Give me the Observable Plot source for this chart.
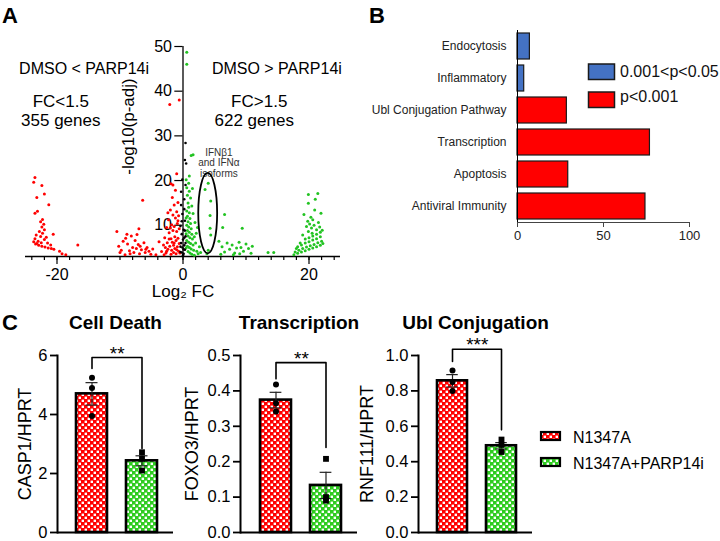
<!DOCTYPE html>
<html>
<head>
<meta charset="utf-8">
<script src="https://cdn.jsdelivr.net/npm/d3@7"></script>
<script src="https://cdn.jsdelivr.net/npm/@observablehq/plot@0.6"></script>
<style>
  html, body { margin: 0; padding: 0; background: #fff; }
  #fig { position: relative; width: 720px; height: 541px; overflow: hidden; background: #fff; }
  #fig > svg { position: absolute; }
</style>
</head>
<body>
<svg width="0" height="0" style="position:absolute">
  <defs>
    <pattern id="chkRed" width="6" height="6" patternUnits="userSpaceOnUse">
      <rect width="6" height="6" fill="#ff0000"/>
      <rect x="0.6" y="0.6" width="2.4" height="2.4" fill="#ffffff"/>
      <rect x="3.6" y="3.6" width="2.4" height="2.4" fill="#ffffff"/>
    </pattern>
    <pattern id="chkGreen" width="6" height="6" patternUnits="userSpaceOnUse">
      <rect width="6" height="6" fill="#2ecc1f"/>
      <rect x="0.6" y="0.6" width="2.4" height="2.4" fill="#ffffff"/>
      <rect x="3.6" y="3.6" width="2.4" height="2.4" fill="#ffffff"/>
    </pattern>
  </defs>
</svg>
<div id="fig"></div>
<script>
const FONT = '"Liberation Sans", Arial, Helvetica, sans-serif';

// ---------------- Panel A: volcano (log2 FC, -log10 p-adj) ----------------
const redPts = [
  [-23.5,20.7],[-23.7,19.6],[-22.4,18.9],[-22.0,17.0],[-23.2,16.2],[-21.3,14.6],[-23.1,13.1],[-23.5,12.7],
  [-22.3,11.3],[-22.6,10.8],[-22.1,10.2],[-22.4,9.6],[-22.0,9.0],[-22.8,8.6],[-22.3,8.2],[-23.3,7.8],
  [-22.6,7.5],[-21.7,7.3],[-23.5,7.0],[-22.0,6.8],[-23.0,6.4],[-22.5,6.1],[-21.5,6.0],[-23.4,5.8],
  [-22.9,5.5],[-22.4,5.3],[-21.9,5.1],[-21.4,4.9],[-20.9,4.8],[-20.5,4.6],[-23.7,6.3],[-23.2,5.9],
  [-21.0,5.6],[-20.6,8.0],[-19.6,4.2],[-19.2,3.6],[-18.6,3.4],[-16.7,5.6],
  [-10.5,8.6],[-10.2,5.3],[-9.8,4.4],[-9.5,6.4],[-9.1,7.1],[-8.8,5.8],[-8.5,4.3],[-8.2,7.6],
  [-8.0,5.0],[-7.8,3.9],[-7.6,6.6],[-7.4,4.8],[-7.1,5.7],[-6.9,3.6],[-6.6,4.5],[-6.4,15.6],
  [-6.2,6.1],[-6.0,3.9],[-5.7,5.0],[-5.4,4.2],[-5.1,3.5],[-4.8,4.7],[-9.2,3.4],[-8.9,8.0],
  [-7.3,7.9],[-10.0,3.9],[-7.0,9.2],[-5.9,4.6],[-8.4,3.6],[-6.8,5.3],[-4.3,3.4],[-3.8,6.3],
  [-0.6,38.0],[-2.1,37.0],[-1.0,21.5],[-1.9,19.3],
  [-3.4,4.1],[-3.1,5.6],[-2.9,7.2],[-2.7,3.8],[-2.6,9.5],[-2.5,6.1],[-2.4,4.6],[-2.3,11.2],
  [-2.2,8.3],[-2.1,5.3],[-2.0,13.4],[-1.9,3.5],[-1.9,7.0],[-1.8,10.1],[-1.8,4.4],[-1.7,16.2],
  [-1.7,6.2],[-1.6,12.3],[-1.6,8.8],[-1.5,3.9],[-1.5,5.5],[-1.4,14.5],[-1.4,9.7],[-1.3,7.4],
  [-1.3,4.8],[-1.2,17.8],[-1.2,11.6],[-1.1,6.6],[-1.1,3.6],[-1.0,13.0],[-1.0,8.6],[-0.9,5.2],
  [-0.9,10.4],[-0.8,15.1],[-0.8,7.1],[-0.7,4.2],[-0.7,12.1],[-0.6,9.2],[-0.6,5.9],[-0.5,3.8],
  [-2.8,5.0],[-3.0,3.4],[-2.4,12.8],[-1.6,19.0],[-2.2,6.9],[-1.0,4.5],[-1.4,6.0],[-0.8,11.0],
  [-2.6,4.2],[-2.0,9.4]
];
const greyPts = [
  [0.4,28.4],[0.5,23.8],[0.3,24.6],[-0.3,17.5],[0.2,15.8],[-0.1,12.5],[0.3,11.0],[-0.4,9.8],
  [0.1,9.0],[-0.2,8.0],[0.4,7.5],[0.0,6.8],[-0.3,6.0],[0.2,5.5],[-0.1,5.0],[0.3,4.5],
  [-0.4,4.0],[0.1,3.6],[0.0,3.3],[-0.2,10.9],[0.2,13.6],[-0.3,14.5],[0.4,19.0],[-0.1,20.2],
  [0.2,7.2],[-0.4,5.2],[0.3,8.8],[-0.2,3.9],[0.1,4.6],[0.4,6.0]
];
const greenPts = [
  [0.6,48.7],[0.6,46.0],[1.3,25.6],[1.6,25.8],[1.0,21.0],
  [0.5,20.2],[0.6,18.4],[0.7,16.7],[0.8,15.0],[0.9,14.0],[0.6,13.2],[1.0,12.8],[0.7,12.0],
  [1.1,11.5],[0.8,10.8],[1.2,10.4],[0.6,10.0],[0.9,9.6],[1.3,9.2],[0.7,8.8],[1.0,8.4],
  [1.4,8.0],[0.8,7.6],[1.1,7.2],[1.5,6.9],[0.6,6.6],[0.9,6.2],[1.2,5.9],[1.6,5.6],
  [0.7,5.3],[1.0,5.0],[1.3,4.7],[1.7,4.4],[0.8,4.1],[1.1,3.8],[1.4,3.5],[1.8,3.3],
  [2.0,6.0],[2.2,4.2],[2.4,3.6],[2.1,8.2],[1.9,10.6],[1.6,12.6],[1.4,14.3],[1.2,16.1],
  [1.0,17.6],[0.9,19.4],[2.6,5.2],[2.8,3.9],[1.5,18.2],[2.3,9.5],[1.8,7.4],[0.5,11.6],
  [0.5,8.1],[0.5,4.9],
  [4.0,19.4],[3.5,18.0],[4.4,15.4],[4.3,12.2],[4.3,9.3],[4.4,7.8],[4.0,4.4],[3.8,3.6],
  [6.6,12.4],[6.3,9.5],[9.4,9.3],[5.7,6.4],[6.2,5.2],[6.6,4.0],[7.0,6.0],[7.4,4.6],
  [7.8,5.6],[8.2,3.8],[8.5,4.9],[8.9,6.2],[9.2,5.0],[9.6,4.2],[10.0,5.8],[10.4,4.8],
  [10.8,3.7],[11.0,5.3],[8.0,3.4],[6.0,3.5],[9.0,3.6],[13.5,3.9],[14.4,3.9],
  [21.4,17.1],[19.9,16.9],[21.0,15.8],[19.9,14.9],[20.3,11.8],[20.6,11.2],[19.8,10.9],[20.1,10.3],
  [20.8,10.0],[19.6,9.7],[20.4,9.4],[21.2,9.0],[19.9,8.6],[20.5,8.2],[21.9,12.7],[21.5,10.6],
  [19.0,7.8],[18.6,6.0],[19.4,6.9],[20.0,7.2],[20.6,7.6],[21.2,8.0],[21.8,8.4],[18.2,5.2],
  [18.8,5.6],[19.4,6.0],[20.0,6.3],[20.6,6.7],[21.2,7.0],[21.8,7.4],[17.8,4.0],[18.4,4.4],
  [19.0,4.8],[19.6,5.1],[20.2,5.4],[20.8,5.7],[21.4,6.1],[22.0,6.4],[17.6,3.4],[18.2,3.7],
  [18.8,4.0],[19.4,4.3],[20.0,4.6],[20.6,4.9],[21.2,5.2],[21.8,5.5],[22.2,5.9],[18.0,4.8],
  [21.7,9.6],[22.1,8.9],[19.2,12.4],[20.9,13.4]
];
const xMajorA = [-20, 0, 20];
const xMinorA = [-24,-22,-20,-18,-16,-14,-12,-10,-8,-6,-4,-2,0,2,4,6,8,10,12,14,16,18,20,22,24];
const yTicksA = [10, 20, 30, 40, 50];
const textsA = ["DMSO < PARP14i", "FC<1.5", "355 genes", "DMSO > PARP14i", "FC>1.5", "622 genes"];
const ifnNote = "IFNβ1\nand IFNα\nisoforms";
const ifnEllipse = {x: 4.0, y: 12.6, rx: 1.5, ry: 9.0};

// ---------------- Panel B: pathway bars ----------------
const pathways = ["Endocytosis", "Inflammatory", "Ubl Conjugation Pathway", "Transcription", "Apoptosis", "Antiviral Immunity"];
const pathwayValues = [7.2, 3.9, 28.7, 77.0, 29.5, 74.4];
const pathwaySig = ["0.001<p<0.05", "0.001<p<0.05", "p<0.001", "p<0.001", "p<0.001", "p<0.001"];
const sigLevels = ["0.001<p<0.05", "p<0.001"];
const sigColors = ["#4472c4", "#ff0000"];
const xTicksB = [0, 50, 100];

// ---------------- Panel C: qPCR bars ----------------
const groups = ["N1347A", "N1347A+PARP14i"];
const cTitles = ["Cell Death", "Transcription", "Ubl Conjugation"];
const cYLabels = ["CASP1/HPRT", "FOXO3/HPRT", "RNF111/HPRT"];
const casp1Mean = [4.70, 2.43];
const casp1Sem = [0.38, 0.17];
const casp1Reps = [[5.25, 4.90, 3.95], [2.72, 2.50, 2.10]];
const foxo3Mean = [0.374, 0.133];
const foxo3Sem = [0.022, 0.037];
const foxo3Reps = [[0.418, 0.365, 0.342], [0.208, 0.100, 0.090]];
const rnf111Mean = [0.857, 0.490];
const rnf111Sem = [0.035, 0.018];
const rnf111Reps = [[0.915, 0.850, 0.800], [0.525, 0.495, 0.455]];
const casp1Ticks = [0, 2, 4, 6];
const foxo3Ticks = [0, 0.1, 0.2, 0.3, 0.4, 0.5];
const rnf111Ticks = [0, 0.2, 0.4, 0.6, 0.8, 1.0];
const sigStars = ["**", "**", "***"];
// bracket: [left leg bottom, top, right leg bottom]
const casp1Bracket = [5.56, 5.93, 2.85];
const foxo3Bracket = [0.434, 0.48, 0.24];
const rnf111Bracket = [0.966, 1.035, 0.58];

const fig = document.getElementById("fig");
function place(svg, left, top) {
  svg.style.left = left + "px";
  svg.style.top = top + "px";
  fig.appendChild(svg);
  return svg;
}
const baseStyle = {fontFamily: FONT, background: "transparent", overflow: "visible", color: "#000"};

// ---- Panel A ----
const annA = [
  {x: -15.7, y: 45.1, t: textsA[0], s: 16},
  {x: -19.4, y: 37.6, t: textsA[1], s: 17},
  {x: -19.4, y: 33.5, t: textsA[2], s: 17},
  {x: 14.9, y: 45.1, t: textsA[3], s: 16},
  {x: 12.1, y: 37.6, t: textsA[4], s: 17},
  {x: 11.3, y: 33.5, t: textsA[5], s: 17}
];
const pA = Plot.plot({
  width: 360, height: 300,
  marginLeft: 25, marginRight: 20, marginTop: 46, marginBottom: 44,
  x: {domain: [-25, 25]},
  y: {domain: [3, 50], axis: null},
  style: {...baseStyle, fontSize: "15px"},
  marks: [
    Plot.ruleY([3], {stroke: "#000", strokeWidth: 1.3}),
    Plot.axisX({ticks: xMinorA, tickSize: 4, tickFormat: () => "", label: null, strokeWidth: 1.2}),
    Plot.axisX({ticks: xMajorA, tickSize: 8, tickPadding: 4, fontSize: 16, label: null, strokeWidth: 1.2,
      tickFormat: d => (d < 0 ? "-" + Math.abs(d) : String(d))}),
    Plot.ruleX([0], {y1: 3, y2: 50, stroke: "#000", strokeWidth: 1.3}),
    Plot.ruleY(yTicksA, {y: d => d, x1: -1.3, x2: 0, stroke: "#000", strokeWidth: 1.2}),
    Plot.text(yTicksA, {x: 0, y: d => d, text: d => String(d), textAnchor: "end", dx: -11, fontSize: 16}),
    Plot.dot(redPts, {x: d => d[0], y: d => d[1], r: 1.5, fill: "#ff0000"}),
    Plot.dot(greenPts, {x: d => d[0], y: d => d[1], r: 1.5, fill: "#22c322"}),
    Plot.dot(greyPts, {x: d => d[0], y: d => d[1], r: 1.3, fill: "#000"}),
    Plot.text(annA, {x: "x", y: "y", text: "t", fontSize: d => d.s}),
    Plot.text([ifnNote], {x: 5.7, y: 24.0, text: d => d, fontSize: 10, lineHeight: 1.05, fill: "#333"}),
    Plot.text(["-log10(p-adj)"], {x: -8.6, y: 32.1, text: d => d, rotate: -90, fontSize: 17}),
    Plot.text(["Log₂ FC"], {x: 0, y: -4.8, text: d => d, fontSize: 17})
  ]
});
{
  const sx = pA.scale("x"), sy = pA.scale("y");
  d3.select(pA).append("ellipse")
    .attr("cx", sx.apply(ifnEllipse.x))
    .attr("cy", sy.apply(ifnEllipse.y))
    .attr("rx", sx.apply(ifnEllipse.x + ifnEllipse.rx) - sx.apply(ifnEllipse.x))
    .attr("ry", sy.apply(ifnEllipse.y - ifnEllipse.ry) - sy.apply(ifnEllipse.y))
    .attr("fill", "none").attr("stroke", "#000").attr("stroke-width", 1.8);
}
place(pA, 0, 0);

// ---- Panel B ----
const dataB = pathways.map((p, i) => ({p, v: pathwayValues[i], s: pathwaySig[i]}));
const pB = Plot.plot({
  width: 360, height: 260,
  marginLeft: 157, marginRight: 31, marginTop: 30, marginBottom: 38,
  x: {domain: [0, 100]},
  y: {domain: pathways, paddingInner: 0.2, paddingOuter: 0.1},
  color: {domain: sigLevels, range: sigColors},
  style: {...baseStyle, fontSize: "13px"},
  marks: [
    Plot.barX(dataB, {x: "v", y: "p", fill: "s", stroke: "#1a1a1a", strokeWidth: 1.2}),
    Plot.frame({anchor: "left", stroke: "#000", strokeWidth: 1}),
    Plot.frame({anchor: "bottom", stroke: "#444", strokeWidth: 1}),
    Plot.axisX({ticks: xTicksB, tickSize: 5, tickPadding: 3, fontSize: 13, label: null, stroke: "#444", fill: "#222"}),
    Plot.axisY({tickSize: 0, tickPadding: 11, fontSize: 12, label: null, fill: "#222"})
  ]
});
place(pB, 360, 0);

// ---- Panel C ----
function panelC({mean, sem, reps, ticks, fmt, title, ylabel, bracket, stars, labDx, left, rangeW}) {
  const rows = groups.map((g, i) => ({g, m: mean[i], s: sem[i]}));
  const dots0 = reps[0].map(v => ({g: groups[0], v}));
  const dots1 = reps[1].map(v => ({g: groups[1], v}));
  const br = [
    {g: groups[0], v: bracket[0]}, {g: groups[0], v: bracket[1]},
    {g: groups[1], v: bracket[1]}, {g: groups[1], v: bracket[2]}
  ];
  const PI = 0.386, PO = 0.342;
  const step = rangeW / (2 - PI + 2 * PO);
  const bw = step * (1 - PI);
  const capInset = (bw - 12) / 2;
  const p = Plot.plot({
    width: 57 + rangeW + 12, height: 241,
    marginLeft: 57, marginRight: 12, marginTop: 55, marginBottom: 9,
    x: {domain: groups, paddingInner: PI, paddingOuter: PO, align: 0.55, axis: null},
    y: {domain: [ticks[0], ticks[ticks.length - 1]]},
    color: {domain: groups, range: ["url(#chkRed)", "url(#chkGreen)"]},
    style: {...baseStyle, fontSize: "16px"},
    marks: [
      Plot.barY(rows, {x: "g", y: "m", fill: "g", stroke: "#000", strokeWidth: 2.6}),
      Plot.ruleX(rows, {x: "g", y1: d => d.m - d.s, y2: d => d.m + d.s, stroke: "#222", strokeWidth: 1.2}),
      Plot.tickY(rows, {x: "g", y: d => d.m + d.s, insetLeft: capInset, insetRight: capInset, stroke: "#222", strokeWidth: 1.2}),
      Plot.tickY(rows, {x: "g", y: d => d.m - d.s, insetLeft: capInset, insetRight: capInset, stroke: "#222", strokeWidth: 1.2}),
      Plot.dot(dots0, {x: "g", y: "v", r: 3, fill: "#000", symbol: "circle"}),
      Plot.dot(dots1, {x: "g", y: "v", r: 3.3, fill: "#000", symbol: "square"}),
      Plot.ruleY([0], {stroke: "#000", strokeWidth: 2}),
      Plot.frame({anchor: "left", stroke: "#000", strokeWidth: 2}),
      Plot.axisY({ticks, tickFormat: fmt, tickSize: 7, tickPadding: 3, fontSize: 16.5, label: null, strokeWidth: 1.8}),
      Plot.line(br, {x: "g", y: "v", stroke: "#000", strokeWidth: 1.6}),
      Plot.text([stars], {x: () => groups[0], y: () => bracket[1], text: d => d, dx: step / 2, lineAnchor: "bottom", dy: 2, fontSize: 19}),
      Plot.text([title], {frameAnchor: "top", text: d => d, dy: -40, fontWeight: "bold", fontSize: 19}),
      Plot.text([ylabel], {frameAnchor: "left", textAnchor: "middle", text: d => d, rotate: -90, dx: labDx, fontSize: 18})
    ]
  });
  place(p, left, 300);
  return p;
}
panelC({mean: casp1Mean, sem: casp1Sem, reps: casp1Reps, ticks: casp1Ticks, fmt: d3.format("d"),
  title: cTitles[0], ylabel: cYLabels[0], bracket: casp1Bracket, stars: sigStars[0], labDx: -32, left: 0, rangeW: 116});
panelC({mean: foxo3Mean, sem: foxo3Sem, reps: foxo3Reps, ticks: foxo3Ticks, fmt: d3.format(".1f"),
  title: cTitles[1], ylabel: cYLabels[1], bracket: foxo3Bracket, stars: sigStars[1], labDx: -48, left: 183, rangeW: 117});
panelC({mean: rnf111Mean, sem: rnf111Sem, reps: rnf111Reps, ticks: rnf111Ticks, fmt: d3.format(".1f"),
  title: cTitles[2], ylabel: cYLabels[2], bracket: rnf111Bracket, stars: sigStars[2], labDx: -51, left: 361, rangeW: 114});

// ---- Overlay: panel letters and legends ----
const ov = d3.select(fig).append("svg")
  .attr("width", 720).attr("height", 541)
  .style("left", "0px").style("top", "0px")
  .style("font-family", FONT);
[["A", 2, 23], ["B", 369, 23], ["C", 2, 330]].forEach(([t, x, y]) =>
  ov.append("text").attr("x", x).attr("y", y).attr("font-size", 22).attr("font-weight", "bold").text(t));

// legend B
sigLevels.forEach((lab, i) => {
  const y = [64, 92][i];
  ov.append("rect").attr("x", 588.5).attr("y", y).attr("width", 26).attr("height", 15.5)
    .attr("fill", sigColors[i]).attr("stroke", "#1a1a1a").attr("stroke-width", 1.5);
  ov.append("text").attr("x", 620).attr("y", [77, 102][i]).attr("font-size", 16).attr("fill", "#111").text(lab);
});
// legend C
groups.forEach((lab, i) => {
  const y = [432, 458][i];
  ov.append("rect").attr("x", 541).attr("y", y).attr("width", 19).attr("height", 8)
    .attr("fill", i === 0 ? "url(#chkRed)" : "url(#chkGreen)").attr("stroke", "#000").attr("stroke-width", 2.2);
  ov.append("text").attr("x", 573).attr("y", [443, 469][i]).attr("font-size", 16).text(lab);
});
</script>
</body>
</html>
